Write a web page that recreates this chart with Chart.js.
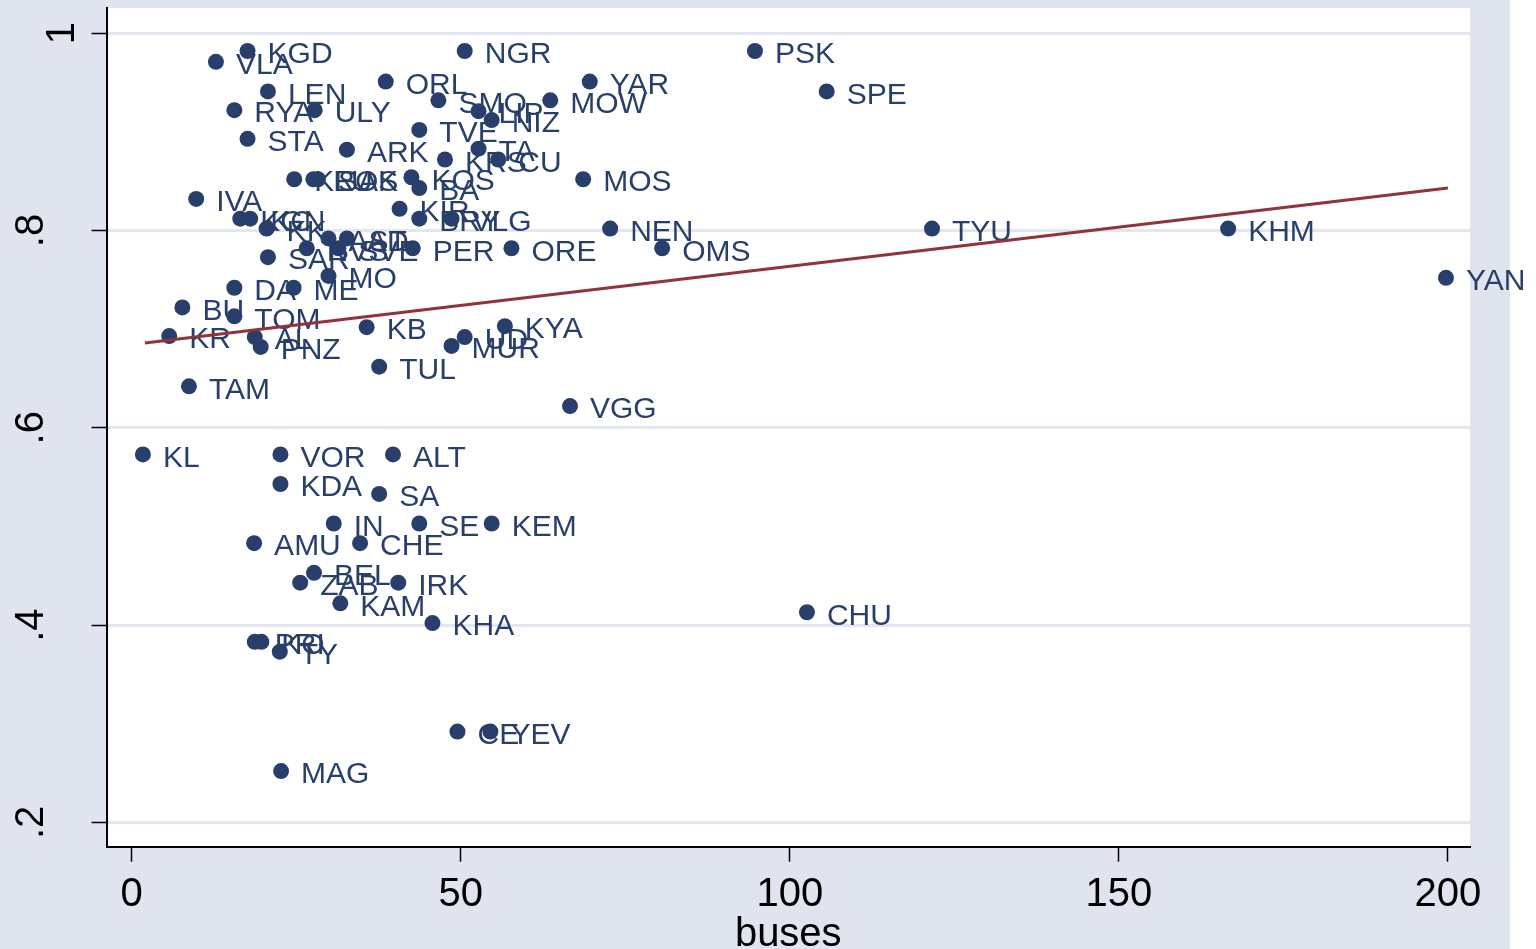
<!DOCTYPE html>
<html><head><meta charset="utf-8">
<script src="https://cdn.jsdelivr.net/npm/chart.js@4.4.1/dist/chart.umd.min.js"></script>
<style>html,body{margin:0;padding:0;background:#fff;}canvas{display:block;}</style>
</head><body>
<canvas id="c" width="1536" height="949"></canvas>
<script>
// ---- data ----
const regions = ["KGD","VLA","LEN","RYA","ULY","STA","ARK","ORL","NGR","SMO","LIP","NIZ","MOW","YAR","TVE","TA","KRS","CU","PSK","SPE","MOS","KOS","BA","KIR","BRY","VLG","NEN","OMS","TYU","KHM","YAN","ORE","PER","IVA","KGN","KC","KK","AST","AD","NVS","SVE","SAR","MO","ME","DA","KLU","ROS","SAK","BU","TOM","KR","AL","PNZ","TAM","KB","TUL","UD","MUR","KYA","VGG","KL","VOR","ALT","KDA","SA","IN","SE","KEM","AMU","CHE","BEL","ZAB","IRK","KAM","KHA","PRI","KO","TY","CHU","CE","YEV","MAG"];
const buses = [17.6,12.8,20.7,15.6,27.8,17.6,32.7,38.6,50.6,46.6,52.7,54.7,63.6,69.6,43.7,52.7,47.6,55.7,94.7,105.6,68.6,42.5,43.7,40.7,43.7,48.6,72.7,80.6,121.6,166.6,199.7,57.7,42.7,9.8,16.5,18.0,20.5,29.9,32.7,26.6,31.4,20.7,29.9,24.6,15.6,24.7,27.6,28.3,7.7,15.6,5.7,18.7,19.6,8.7,35.7,37.6,50.6,48.6,56.7,66.6,1.7,22.6,39.7,22.6,37.6,30.7,43.7,54.7,18.6,34.7,27.7,25.6,40.5,31.7,45.7,18.7,19.7,22.5,102.6,49.5,54.5,22.7];
const share = [0.982,0.971,0.941,0.922,0.922,0.893,0.882,0.951,0.982,0.932,0.921,0.912,0.932,0.951,0.902,0.883,0.872,0.872,0.982,0.941,0.852,0.854,0.843,0.822,0.812,0.812,0.802,0.782,0.802,0.802,0.752,0.782,0.782,0.832,0.812,0.812,0.802,0.792,0.792,0.782,0.782,0.773,0.754,0.742,0.742,0.852,0.852,0.852,0.722,0.713,0.693,0.692,0.682,0.642,0.702,0.662,0.692,0.683,0.703,0.622,0.573,0.573,0.573,0.543,0.533,0.503,0.503,0.503,0.483,0.483,0.453,0.443,0.443,0.422,0.402,0.383,0.383,0.373,0.413,0.292,0.292,0.252];
const fitX = [2, 200];
const fitY = [0.686, 0.843];
const xTicks = [0, 50, 100, 150, 200];
const yTicks = [0.2, 0.4, 0.6, 0.8, 1];
const yTickLabels = [".2", ".4", ".6", ".8", "1"];
const xTitle = "buses";

// ---- style ----
const BG = "rgb(224,228,239)";
const GRID = "rgb(226,230,240)";
const NAVY = "#283f6c";
const MAROON = "#903439";
const FONT = "'Liberation Sans', Arial, sans-serif";
const Y_LABEL_BASE_X = 43;
const Y_LABEL_SHIFT = {"1": 31};

const pts = buses.map((b, i) => ({x: b, y: share[i], label: regions[i]}));
const fitPts = fitX.map((v, i) => ({x: v, y: fitY[i]}));

const bgPlugin = {
  id: 'bg',
  beforeDraw(chart) {
    const {ctx, chartArea: a} = chart;
    ctx.save();
    ctx.fillStyle = '#fff';
    ctx.fillRect(0, 0, chart.width, chart.height);
    ctx.fillStyle = BG;
    ctx.fillRect(0, 0, 1510, chart.height);
    ctx.fillStyle = '#fff';
    ctx.fillRect(a.left, a.top, a.right - a.left, a.bottom - a.top);
    ctx.restore();
  }
};

const labelPlugin = {
  id: 'ptlabels',
  afterDatasetDraw(chart, args) {
    if (args.index !== 1) return;
    const {ctx} = chart;
    const meta = args.meta;
    ctx.save();
    ctx.font = "30px " + FONT;
    ctx.fillStyle = NAVY;
    ctx.textAlign = 'left';
    ctx.textBaseline = 'middle';
    meta.data.forEach((el, i) => {
      ctx.fillText(pts[i].label, el.x + 20, el.y + 4);
    });
    ctx.restore();
  }
};

const yLabelPlugin = {
  id: 'ylabels',
  afterDraw(chart) {
    const {ctx} = chart;
    const ys = chart.scales.y;
    ctx.save();
    ctx.font = "40px " + FONT;
    ctx.fillStyle = '#000';
    ctx.textAlign = 'center';
    ctx.textBaseline = 'alphabetic';
    yTicks.forEach((v, i) => {
      const py = ys.getPixelForValue(v);
      const t = yTickLabels[i];
      ctx.save();
      ctx.translate(Y_LABEL_BASE_X + (Y_LABEL_SHIFT[t] || 0), py);
      ctx.rotate(-Math.PI / 2);
      ctx.fillText(t, 0, 0);
      ctx.restore();
    });
    ctx.restore();
  }
};

new Chart(document.getElementById('c'), {
  type: 'scatter',
  data: {
    datasets: [
      {type: 'line', data: fitPts, borderColor: MAROON, borderWidth: 3, pointRadius: 0, fill: false, tension: 0},
      {type: 'scatter', data: pts, backgroundColor: NAVY, borderWidth: 0, pointRadius: 8, pointHoverRadius: 8}
    ]
  },
  options: {
    responsive: false,
    animation: false,
    events: [],
    layout: {padding: {top: 7, right: 66, left: 0, bottom: 0}},
    plugins: {legend: {display: false}, tooltip: {enabled: false}},
    scales: {
      x: {
        type: 'linear', min: -3.83, max: 203.35,
        afterBuildTicks: s => { s.ticks = xTicks.map(v => ({value: v})); },
        afterFit: s => { s.height = 102.3; },
        border: {display: true, color: '#000', width: 2},
        grid: {display: true, drawOnChartArea: false, drawTicks: true, tickLength: 15, tickColor: '#000', tickWidth: 1.5, color: 'rgba(0,0,0,0)'},
        ticks: {color: '#000', font: {family: FONT, size: 40}, padding: 9, maxRotation: 0, callback: v => String(v)},
        title: {display: true, text: xTitle, color: '#000', font: {family: FONT, size: 40}, padding: {top: 0, bottom: -10}}
      },
      y: {
        type: 'linear', min: 0.1753, max: 1.0256,
        afterBuildTicks: s => { s.ticks = yTicks.map(v => ({value: v})); },
        afterFit: s => { s.width = 106.5; },
        border: {display: true, color: '#000', width: 2},
        grid: {display: true, drawOnChartArea: true, drawTicks: true, tickLength: 15, tickColor: '#000', tickWidth: 1.5, color: GRID, lineWidth: 3},
        ticks: {display: false}
      }
    }
  },
  plugins: [bgPlugin, labelPlugin, yLabelPlugin]
});
</script>
</body></html>
